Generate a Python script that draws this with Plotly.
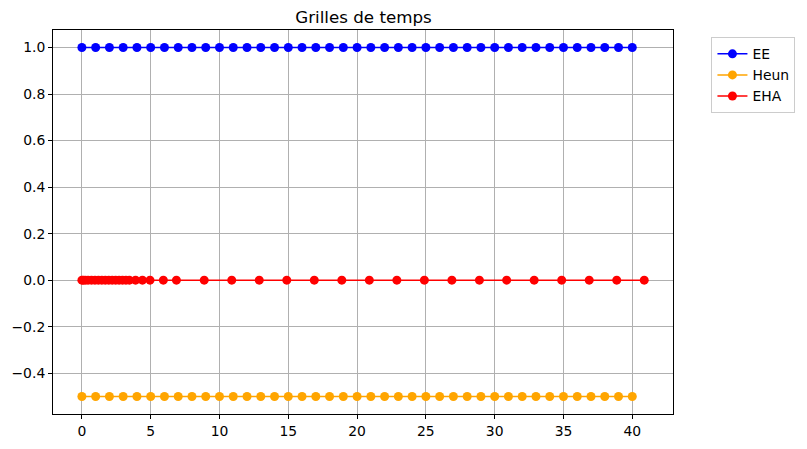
import plotly.graph_objects as go

ee_t = list(range(0, 41))
ee_y = [1.0] * len(ee_t)

heun_t = list(range(0, 41))
heun_y = [-0.5] * len(heun_t)

eha_t = [0.0, 0.1, 0.25, 0.45, 0.7, 0.95, 1.2, 1.45, 1.7, 1.95, 2.2, 2.45, 2.7,
         2.95, 3.2, 3.45, 3.9, 4.4, 4.95, 5.92, 6.87, 8.89, 10.89, 12.89, 14.89,
         16.89, 18.89, 20.89, 22.89, 24.89, 26.89, 28.89, 30.87, 32.87, 34.87,
         36.87, 38.87, 40.87]
eha_y = [0.0] * len(eha_t)

y_ticks = [-0.4, -0.2, 0.0, 0.2, 0.4, 0.6, 0.8, 1.0]
x_ticks = [0, 5, 10, 15, 20, 25, 30, 35, 40]

font = "DejaVu Sans, sans-serif"
W, H = 799, 441
L, R, T, B = 45, 134, 22, 35

fig = go.Figure()
for name, t, y, c in [("EE", ee_t, ee_y, "#0000ff"),
                      ("Heun", heun_t, heun_y, "#ffa500"),
                      ("EHA", eha_t, eha_y, "#ff0000")]:
    fig.add_trace(go.Scatter(x=t, y=y, name=name, mode="lines+markers",
                             line=dict(color=c, width=1.5),
                             marker=dict(color=c, size=9)))

axis_common = dict(showline=True, linecolor="black", linewidth=1, mirror=True,
                   ticks="outside", ticklen=4, tickcolor="black",
                   showgrid=True, gridcolor="#b0b0b0", gridwidth=1,
                   zeroline=False, tickfont=dict(family=font, size=13.9, color="black"))
fig.update_xaxes(range=[-2.1, 42.96], tickvals=x_ticks, **axis_common)
fig.update_yaxes(range=[-0.575, 1.075], tickvals=y_ticks, tickformat=".1f", **axis_common)

fig.update_layout(
    width=W, height=H,
    margin=dict(l=L, r=R, t=T, b=B, autoexpand=False),
    plot_bgcolor="white", paper_bgcolor="white",
    title=dict(text="Grilles de temps", x=355.5 / W, xanchor="center",
               y=1 - 9 / H, yanchor="middle",
               font=dict(family=font, size=16.7, color="black")),
    legend=dict(x=1.062, xanchor="left", y=0.981, yanchor="top",
                bordercolor="#cccccc", borderwidth=1, bgcolor="white",
                font=dict(family=font, size=13.9, color="black"),
                tracegroupgap=0),
    showlegend=True,
)

fig.write_html("out.html")
